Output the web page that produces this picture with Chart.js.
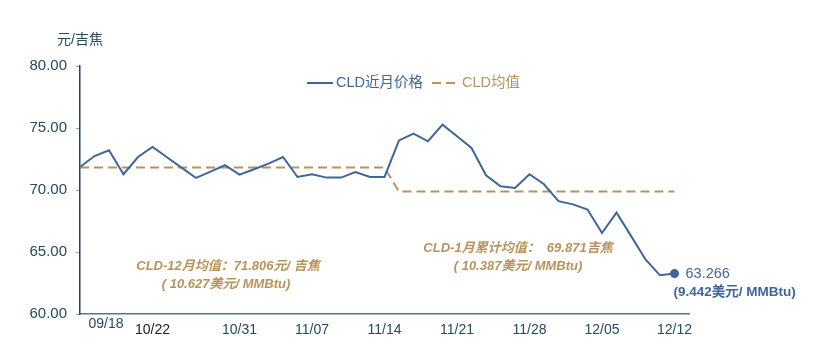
<!DOCTYPE html>
<html>
<head>
<meta charset="utf-8">
<title>CLD</title>
<style>
  html, body { margin: 0; padding: 0; background: #fff; }
  #wrap { width: 831px; height: 360px; }
</style>
</head>
<body>
<div id="wrap"><canvas id="myChart" width="831" height="360"></canvas></div>

<script src="https://cdn.jsdelivr.net/npm/chart.js"></script>
<script>
// data
const dateLabels = ['', '', '09/18', '', '', '10/22', '', '', '', '', '', '10/31', '', '', '', '', '11/07', '', '', '', '', '11/14',
  '', '', '', '', '11/21', '', '', '', '', '11/28', '', '', '', '', '12/05', '', '', '', '', '12/12', ''];
const priceValues = [71.85, 72.74, 73.2, 71.27, 72.66, 73.47, 72.64, 71.8, 70.97, 71.48, 72.0, 71.24, 71.67, 72.13,
  72.66, 71.05, 71.27, 71.0, 71.0, 71.45, 71.05, 71.05, 74.0, 74.55, 73.93, 75.27, 74.33, 73.39, 71.19, 70.3,
  70.16, 71.27, 70.46, 69.1, 68.84, 68.43, 66.53, 68.18, 66.3, 64.4, 63.12, 63.266];
const decAvg = 71.806;
const janAvg = 69.871;
const avgValues = priceValues.map((v, i) => i <= 21 ? decAvg : janAvg);
const yTicks = [60, 65, 70, 75, 80];

const seriesNames = ['CLD近月价格', 'CLD均值'];
const unitTitle = '元/吉焦';
const noteDec = ['CLD-12月均值：71.806元/ 吉焦', '( 10.627美元/ MMBtu)'];
const noteJan = ['CLD-1月累计均值：  69.871吉焦', '( 10.387美元/ MMBtu)'];
const lastNote = ['63.266', '(9.442美元/ MMBtu)'];

const BLUE = '#3f6699';
const TAN = '#b8945c';
const TEXT = '#254a5a';
const FONT = '"Liberation Sans", Arial, "Noto Sans CJK SC", sans-serif';

const textPlugin = {
  id: 'texts',
  afterDraw(chart) {
    const c = chart.ctx;
    c.save();
    c.textBaseline = 'middle';

    // unit title
    c.fillStyle = TEXT;
    c.font = '14px ' + FONT;
    c.textAlign = 'center';
    c.fillText(unitTitle, 80, 40);

    // first date label sits a little higher in the original
    c.fillText(dateLabels[2], chart.scales.x.getPixelForValue(2) - 3, 324);

    // legend
    c.textAlign = 'left';
    c.lineWidth = 2;
    c.strokeStyle = BLUE;
    c.beginPath(); c.moveTo(307, 83); c.lineTo(333, 83); c.stroke();
    c.fillStyle = BLUE;
    c.font = '14.5px ' + FONT;
    c.fillText(seriesNames[0], 336, 83);
    c.strokeStyle = TAN;
    c.setLineDash([9, 5]);
    c.beginPath(); c.moveTo(432, 83); c.lineTo(458, 83); c.stroke();
    c.setLineDash([]);
    c.fillStyle = TAN;
    c.fillText(seriesNames[1], 462, 83);

    // average notes
    c.fillStyle = TAN;
    c.font = 'italic bold 13px ' + FONT;
    c.textAlign = 'center';
    c.fillText(noteDec[0], 228, 266);
    c.fillText(noteDec[1], 226, 284);
    c.fillText(noteJan[0], 518, 248);
    c.fillText(noteJan[1], 518, 266);

    // last value note
    const meta = chart.getDatasetMeta(0);
    const pt = meta.data[meta.data.length - 1];
    c.fillStyle = BLUE;
    c.textAlign = 'left';
    c.font = '14.5px ' + FONT;
    c.fillText(lastNote[0], pt.x + 11, pt.y);
    c.font = 'bold 13.5px ' + FONT;
    c.fillText(lastNote[1], pt.x - 1, pt.y + 19);
    c.restore();
  }
};

const ctx = document.getElementById('myChart');

new Chart(ctx, {
  type: 'line',
  data: {
    labels: dateLabels,
    datasets: [{
      label: seriesNames[0],
      data: priceValues,
      borderColor: BLUE,
      backgroundColor: BLUE,
      borderWidth: 2,
      tension: 0,
      pointRadius: priceValues.map((v, i) => i === priceValues.length - 1 ? 3.5 : 0),
      pointHoverRadius: 0
    }, {
      label: seriesNames[1],
      data: avgValues,
      borderColor: TAN,
      borderWidth: 2,
      borderDash: [9, 5],
      tension: 0,
      pointRadius: 0
    }]
  },
  options: {
    responsive: false,
    animation: false,
    events: [],
    layout: { padding: { left: 0, right: 142, top: 66, bottom: 0 } },
    plugins: {
      legend: { display: false },
      tooltip: { enabled: false }
    },
    scales: {
      x: {
        offset: false,
        grid: { display: false },
        border: { color: '#557887', width: 1.5 },
        ticks: {
          autoSkip: false,
          maxRotation: 0,
          padding: 0,
          color: (c) => c.index === 5 ? '#222' : TEXT,
          font: { family: FONT, size: 14 },
          callback: (v, i) => i === 2 ? '' : dateLabels[i]
        },
        afterFit(scale) { scale.height = 46; }
      },
      y: {
        min: 60,
        max: 80,
        afterBuildTicks(scale) { scale.ticks = yTicks.map(v => ({ value: v })); },
        grid: { drawOnChartArea: false, drawTicks: true, tickLength: 4, color: '#8fa5ad' },
        border: { color: '#1f4656', width: 1.5 },
        ticks: {
          padding: 9,
          color: TEXT,
          font: { family: FONT, size: 15 },
          callback: (v) => Number(v).toFixed(2)
        },
        afterFit(scale) { scale.width = 80; }
      }
    }
  },
  plugins: [textPlugin]
});
</script>
</body>
</html>
